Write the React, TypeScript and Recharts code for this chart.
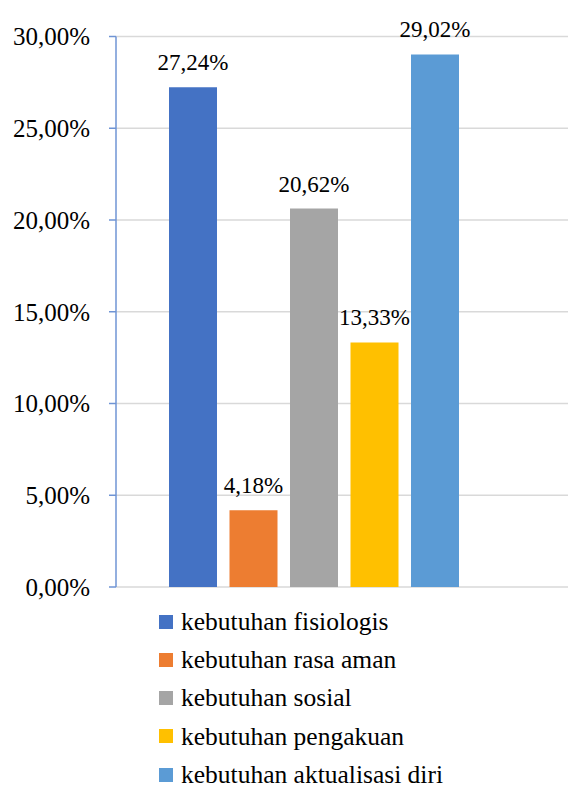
import { BarChart, Bar, XAxis, YAxis, CartesianGrid, Legend, LabelList } from 'recharts'

const categories = ['']
const seriesNames = [
  'kebutuhan fisiologis',
  'kebutuhan rasa aman',
  'kebutuhan sosial',
  'kebutuhan pengakuan',
  'kebutuhan aktualisasi diri',
]
const seriesValues = [27.24, 4.18, 20.62, 13.33, 29.02]
const seriesColors = ['#4472C4', '#ED7D31', '#A5A5A5', '#FFC000', '#5B9BD5']
const yTicks = [0, 5, 10, 15, 20, 25, 30]

const FONT = "'Liberation Serif', Tinos, 'Times New Roman', 'DejaVu Serif', 'Noto Serif', serif"

const data = categories.map((name) => {
  const row: Record<string, string | number> = { name }
  seriesNames.forEach((s, i) => {
    row[`s${i}`] = seriesValues[i]
  })
  return row
})

const fmt = (v: number) => `${v.toFixed(2).replace('.', ',')}%`

function LegendContent({ payload }: any) {
  const items = [...(payload || [])].sort(
    (a: any, b: any) => seriesNames.indexOf(a.value) - seriesNames.indexOf(b.value)
  )
  return (
    <ul style={{ listStyle: 'none', margin: 0, padding: 0, fontFamily: FONT }}>
      {items.map((p: any) => (
        <li
          key={p.value}
          style={{
            height: 25,
            marginBottom: 13.3,
            display: 'flex',
            alignItems: 'center',
            fontSize: 25.5,
            lineHeight: 1,
            color: '#000',
          }}
        >
          <span style={{ width: 14, height: 14, background: p.color, display: 'inline-block', marginRight: 8 }} />
          {p.value}
        </li>
      ))}
    </ul>
  )
}

export default function App() {
  return (
    <div style={{ width: 568, height: 789, position: 'relative' }}>
      <style>{`body{margin:0}`}</style>
      <BarChart
        width={568}
        height={789}
        data={data}
        margin={{ top: 36.5, right: 0, left: 0, bottom: 202 }}
        barSize={48}
        barGap={12.5}
      >
        <CartesianGrid vertical={false} stroke="#D9D9D9" strokeWidth={1.5} />
        <XAxis
          dataKey="name"
          height={0}
          tick={false}
          tickLine={false}
          axisLine={{ stroke: '#D9D9D9', strokeWidth: 1.5 }}
          padding={{ left: 0, right: 56 }}
        />
        <YAxis
          width={116}
          domain={[0, 30]}
          ticks={yTicks}
          interval={0}
          tickFormatter={fmt}
          tickSize={7}
          tickMargin={19}
          axisLine={{ stroke: '#6F94D4', strokeWidth: 1.5 }}
          tickLine={{ stroke: '#6F94D4', strokeWidth: 1.5 }}
          tick={{ fontFamily: FONT, fontSize: 25, fill: '#000' }}
        />
        <Legend
          layout="vertical"
          verticalAlign="middle"
          align="center"
          content={<LegendContent />}
          wrapperStyle={{ top: 609, left: 159, width: 400, height: 178 }}
        />
        {seriesNames.map((s, i) => (
          <Bar key={s} dataKey={`s${i}`} name={s} fill={seriesColors[i]} isAnimationActive={false}>
            <LabelList
              dataKey={`s${i}`}
              position="top"
              offset={17}
              formatter={(v: any) => fmt(Number(v))}
              style={{ fontFamily: FONT, fontSize: 23, fill: '#000' }}
            />
          </Bar>
        ))}
      </BarChart>
    </div>
  )
}
